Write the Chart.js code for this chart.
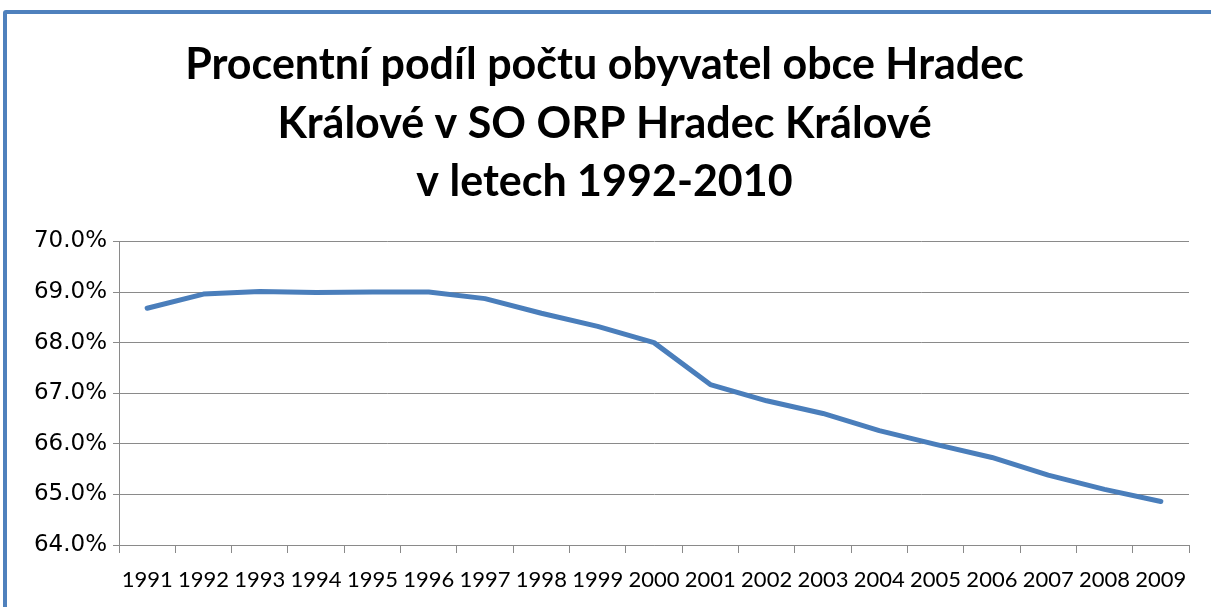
<!DOCTYPE html>
<html>
<head>
<meta charset="utf-8">
<script src="https://cdn.jsdelivr.net/npm/chart.js@4"></script>
<style>
  html, body { margin: 0; padding: 0; background: #fff; overflow: hidden; }
  #wrap { position: relative; width: 1211px; height: 607px; overflow: hidden; }
  #frame { position: absolute; left: 3px; top: 10px; width: 1260px; height: 700px;
           border: 4px solid #4F81BD; border-radius: 3px; box-sizing: border-box; }
  canvas { position: absolute; left: 0; top: 0; }
</style>
</head>
<body>
<div id="wrap">
  <div id="frame"></div>
  <canvas id="chart" width="1211" height="607"></canvas>
</div>
<script>
// data
const years = ['1991', '1992', '1993', '1994', '1995', '1996', '1997', '1998', '1999', '2000',
               '2001', '2002', '2003', '2004', '2005', '2006', '2007', '2008', '2009'];
const shareHK = [68.68, 68.96, 69.01, 68.99, 69.00, 69.00, 68.87, 68.58, 68.32, 68.00,
                 67.17, 66.85, 66.60, 66.26, 65.99, 65.73, 65.38, 65.10, 64.86];
const titleLines = ['Procentní podíl počtu obyvatel obce Hradec', 'Králové v SO ORP Hradec Králové', 'v letech 1992-2010'];

const gridGray = '#8a8a8a';

document.addEventListener("DOMContentLoaded", function () {
    const ctx = document.getElementById('chart').getContext('2d');
    new Chart(ctx, {
        type: 'line',
        data: {
            labels: years,
            datasets: [{
                data: shareHK,
                borderColor: '#4A7EBB',
                borderWidth: 5,
                pointRadius: 0,
                tension: 0,
                borderCapStyle: 'round',
                borderJoinStyle: 'round'
            }]
        },
        options: {
            responsive: false,
            animation: false,
            layout: { padding: { left: 20, right: 22, top: 0, bottom: 0 } },
            plugins: {
                legend: { display: false },
                tooltip: { enabled: false },
                title: {
                    display: true,
                    text: titleLines,
                    color: '#000',
                    font: { family: 'Lato', size: 43, weight: 'bold', lineHeight: 1.36 },
                    padding: { top: 36, bottom: 30 }
                }
            },
            scales: {
                x: {
                    offset: true,
                    afterFit: function (scale) { scale.height = 62; },
                    grid: { offset: true, drawOnChartArea: false, drawTicks: true, tickLength: 8, color: gridGray },
                    border: { color: gridGray, width: 1 },
                    ticks: {
                        autoSkip: false, maxRotation: 0, minRotation: 0, padding: 14,
                        color: '#000', font: { family: 'Lato', size: 22 }
                    }
                },
                y: {
                    min: 64, max: 70,
                    afterFit: function (scale) { scale.width = 99; },
                    grid: { color: gridGray, lineWidth: 1, tickLength: 6 },
                    border: { color: gridGray, width: 1 },
                    ticks: {
                        stepSize: 1, padding: 6, color: '#000',
                        font: { family: 'DejaVu Sans', size: 23 },
                        callback: function (v) { return v.toFixed(1) + '%'; }
                    }
                }
            }
        }
    });
});
</script>
</body>
</html>
